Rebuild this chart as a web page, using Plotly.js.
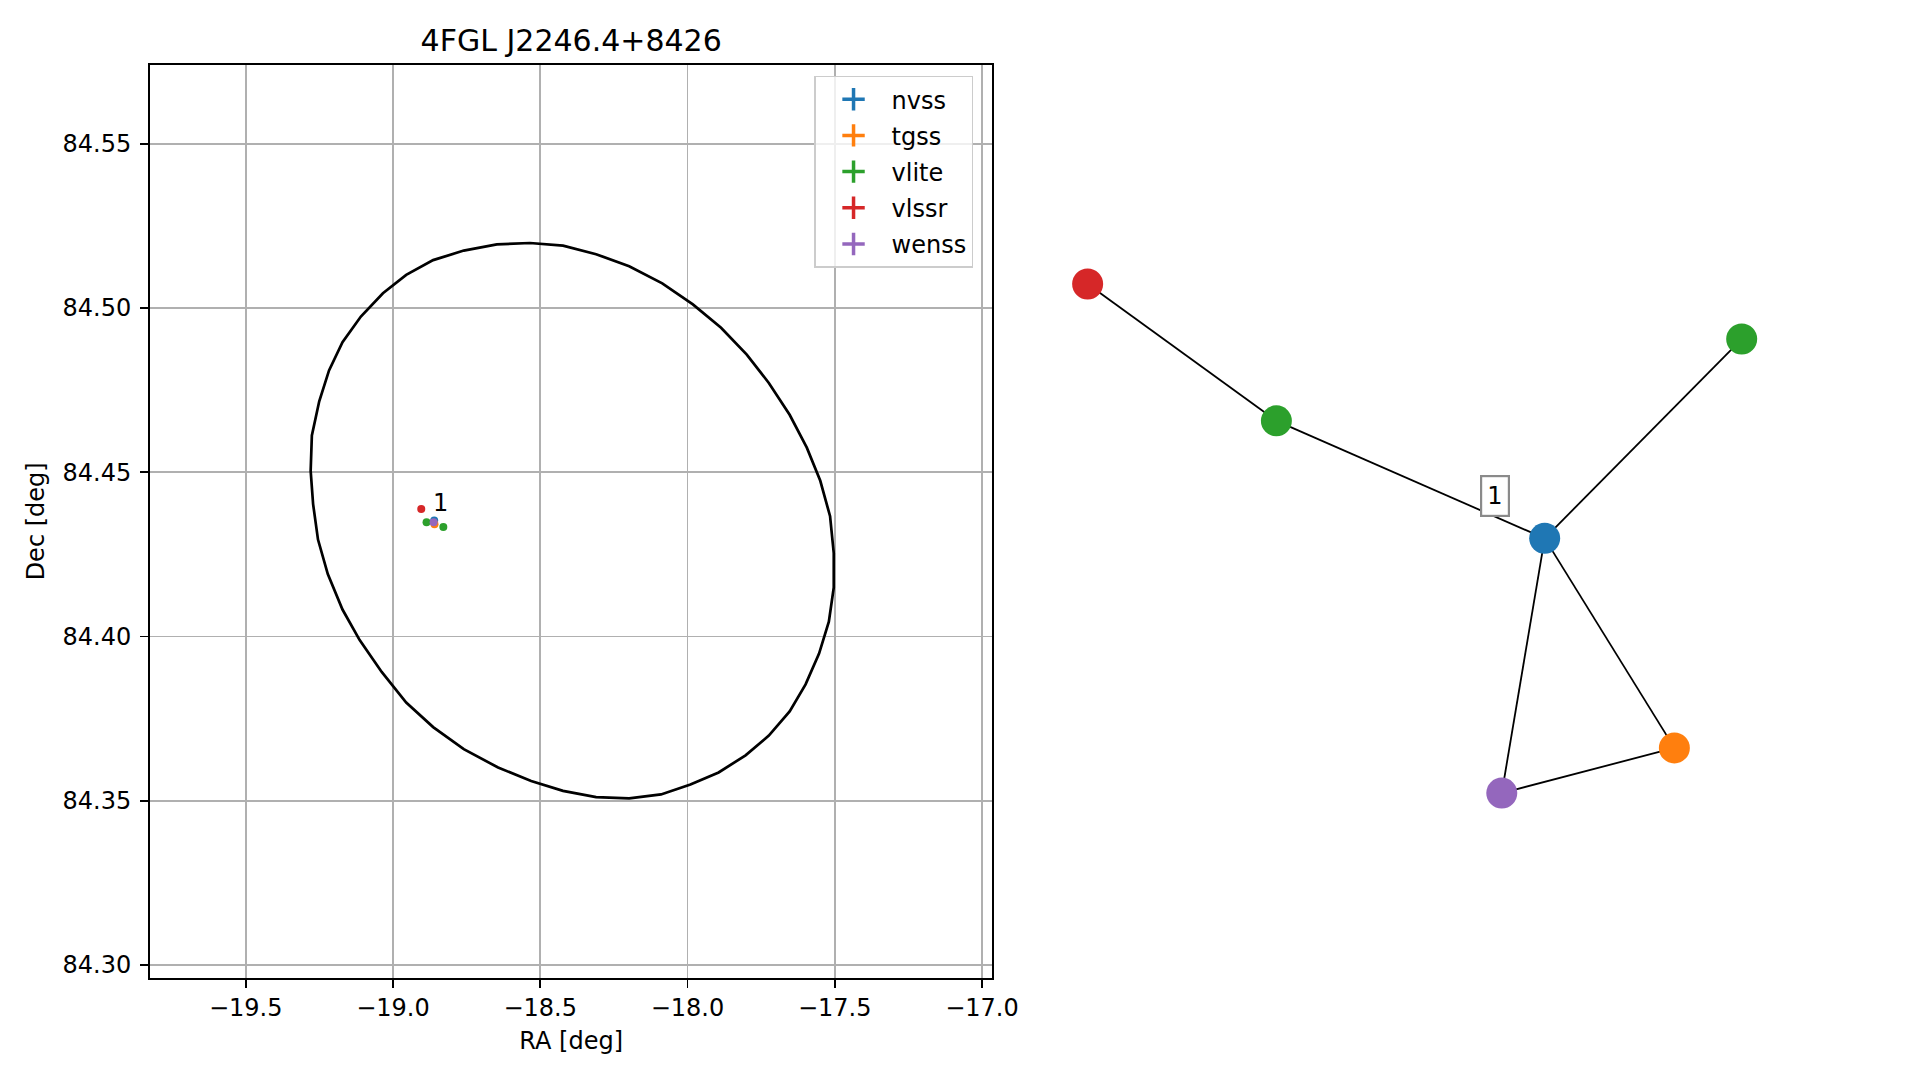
<!DOCTYPE html>
<html><head><meta charset="utf-8">
<script src="https://cdn.plot.ly/plotly-3.0.1.min.js"></script>
<style>body{margin:0;padding:0;background:#fff;}#chart{width:1919px;height:1080px;}</style>
</head><body><div id="chart"></div><script>
// ---------- data ----------
const catalogs = ['nvss', 'tgss', 'vlite', 'vlssr', 'wenss'];
const nvss_ra = [-18.860], nvss_dec = [84.4353];
const tgss_ra = [-18.859], tgss_dec = [84.4342];
const vlite_ra = [-18.886, -18.829], vlite_dec = [84.4348, 84.4333];
const vlssr_ra = [-18.904], vlssr_dec = [84.4388];
const wenss_ra = [-18.862], wenss_dec = [84.4348];

// 4FGL 95% error ellipse outline
const ellipse_ra = [-19.2795,-19.2754,-19.2504,-19.2171,-19.1714,-19.1090,-19.0341,-18.9551,-18.8636,-18.7596,
  -18.6473,-18.5349,-18.4226,-18.3103,-18.1980,-18.0857,-17.9817,-17.8860,-17.7987,-17.7238,
  -17.6531,-17.5948,-17.5491,-17.5158,-17.5033,-17.5033,-17.5200,-17.5532,-17.5990,-17.6531,
  -17.7238,-17.8028,-17.8943,-17.9900,-18.0899,-18.1980,-18.3103,-18.4226,-18.5308,-18.6431,
  -18.7596,-18.8636,-18.9551,-19.0383,-19.1131,-19.1714,-19.2213,-19.2546,-19.2712,-19.2795];
const ellipse_dec = [84.4504,84.4612,84.4716,84.4810,84.4896,84.4974,84.5045,84.5101,84.5146,84.5175,
  84.5194,84.5198,84.5190,84.5164,84.5127,84.5075,84.5011,84.4940,84.4858,84.4772,
  84.4675,84.4575,84.4474,84.4366,84.4254,84.4149,84.4045,84.3948,84.3854,84.3772,
  84.3698,84.3638,84.3586,84.3549,84.3519,84.3507,84.3511,84.3530,84.3560,84.3601,
  84.3657,84.3724,84.3799,84.3892,84.3989,84.4082,84.4190,84.4295,84.4403,84.4504];

const group_labels = ['1'];
const group_ra = [-18.838], group_dec = [84.4406];

// association graph
const node_catalog = ['vlssr', 'vlite', 'nvss', 'vlite', 'tgss', 'wenss'];
const node_x = [-0.989, -0.417, 0.396, 0.993, 0.789, 0.266];
const node_y = [0.776, 0.361, 0.005, 0.609, -0.630, -0.767];
const edge_from = [0, 1, 2, 2, 2, 5];
const edge_to   = [1, 2, 3, 4, 5, 4];
const graph_label_x = [0.244], graph_label_y = [0.132];

// ---------- styles ----------
const palette = {nvss:'#1f77b4', tgss:'#ff7f0e', vlite:'#2ca02c', vlssr:'#d62728', wenss:'#9467bd'};
const FONT = 'DejaVu Sans, sans-serif';
const FS = 24;

const srcData = {nvss:[nvss_ra,nvss_dec], tgss:[tgss_ra,tgss_dec], vlite:[vlite_ra,vlite_dec], vlssr:[vlssr_ra,vlssr_dec], wenss:[wenss_ra,wenss_dec]};

const traces = [];
traces.push({type:'scatter', mode:'lines', x:ellipse_ra, y:ellipse_dec, xaxis:'x', yaxis:'y',
  line:{color:'black', width:2.7}, showlegend:false, hoverinfo:'skip'});
catalogs.forEach(c => {
  traces.push({type:'scatter', mode:'markers', x:srcData[c][0], y:srcData[c][1], xaxis:'x', yaxis:'y',
    marker:{color:palette[c], size:8}, showlegend:false, name:c});
});
// legend entries (errorbar-like crosses)
catalogs.forEach((c, i) => {
  traces.push({type:'scatter', mode:'markers', x:[null], y:[null], xaxis:'x', yaxis:'y', name:c,
    legendgroup:'g'+i,
    marker:{symbol:'cross-thin', size:16, color:palette[c], line:{color:palette[c], width:3.5}}, showlegend:true});
});
// graph edges
const ex = [], ey = [];
for (let i = 0; i < edge_from.length; i++) {
  ex.push(node_x[edge_from[i]], node_x[edge_to[i]], null);
  ey.push(node_y[edge_from[i]], node_y[edge_to[i]], null);
}
traces.push({type:'scatter', mode:'lines', x:ex, y:ey, xaxis:'x2', yaxis:'y2',
  line:{color:'black', width:1.8}, showlegend:false, hoverinfo:'skip'});
traces.push({type:'scatter', mode:'markers', x:node_x, y:node_y, xaxis:'x2', yaxis:'y2',
  marker:{size:31, color:node_catalog.map(c => palette[c])}, showlegend:false, text:node_catalog});

const annotations = [];
group_labels.forEach((t, i) => {
  annotations.push({xref:'x', yref:'y', x:group_ra[i], y:group_dec[i], text:t, showarrow:false,
    font:{family:FONT, size:FS, color:'black'}});
  annotations.push({xref:'x2', yref:'y2', x:graph_label_x[i], y:graph_label_y[i], text:t, showarrow:false,
    font:{family:FONT, size:FS, color:'black'}, bgcolor:'white', bordercolor:'#8a8a8a', borderwidth:2.2, borderpad:5});
});

const axisStyle = {showline:true, mirror:true, linecolor:'black', linewidth:1.9, ticks:'outside', ticklen:8,
  tickwidth:1.9, tickcolor:'black', showgrid:true, gridcolor:'#b0b0b0', gridwidth:1.9, zeroline:false,
  tickfont:{family:FONT, size:FS, color:'black'}};

const layout = {
  width:1919, height:1080, margin:{l:0, r:0, t:0, b:0}, paper_bgcolor:'white', plot_bgcolor:'white',
  font:{family:FONT, size:FS, color:'black'},
  title:{text:'4FGL J2246.4+8426', x:0.29765, xref:'paper', y:0.9626, yref:'paper', xanchor:'center', yanchor:'middle',
    font:{family:FONT, size:30, color:'black'}},
  xaxis:Object.assign({}, axisStyle, {domain:[0.07817, 0.51709], range:[-19.825, -16.965], anchor:'y',
    tick0:-19.5, dtick:0.5, tickformat:'.1f', automargin:false,
    title:{text:'RA [deg]', font:{family:FONT, size:FS, color:'black'}, standoff:11}}),
  yaxis:Object.assign({}, axisStyle, {domain:[0.09472, 0.93981], range:[84.2961, 84.574], anchor:'x',
    tick0:84.30, dtick:0.05, tickformat:'.2f', automargin:false, ticklabelstandoff:4,
    title:{text:'Dec [deg]', font:{family:FONT, size:FS, color:'black'}, standoff:11}}),
  xaxis2:{domain:[0.53, 1], range:[-1.20282, 1.53030], anchor:'y2', visible:false},
  yaxis2:{domain:[0, 1], range:[-1.6364, 1.6364], anchor:'x2', visible:false},
  showlegend:true,
  legend:{x:0.4242, y:0.930, xanchor:'left', yanchor:'top', xref:'paper', yref:'paper',
    bgcolor:'rgba(255,255,255,0.8)', bordercolor:'#cccccc', borderwidth:1.5, tracegroupgap:2,
    font:{family:FONT, size:FS, color:'black'}, itemwidth:66},
  annotations:annotations
};

Plotly.newPlot('chart', traces, layout, {displayModeBar:false, staticPlot:true});
</script></body></html>
